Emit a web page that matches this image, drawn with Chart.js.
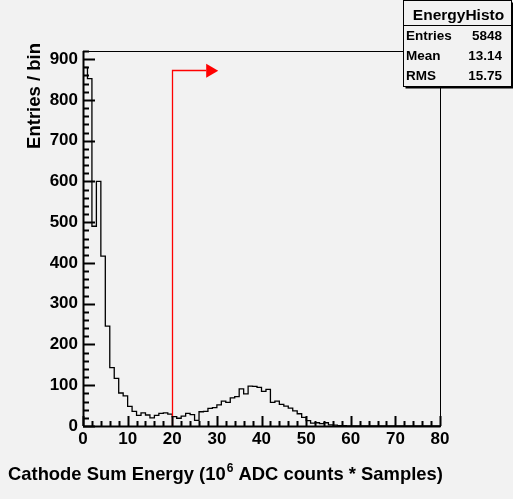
<!DOCTYPE html>
<html>
<head>
<meta charset="utf-8">
<script src="https://cdn.jsdelivr.net/npm/chart.js@4.4.0/dist/chart.umd.min.js"></script>
<style>
  body { margin: 0; background: #f2f2f2; }
  #wrap { width: 513px; height: 499px; position: relative; }
</style>
</head>
<body>
<div id="wrap"><canvas id="myChart"></canvas></div>
<script>
// histogram: 80 bins of width 1 from 0 to 80
const binEdges0 = 0;
const binWidth = 1;
const counts = [
  880, 852, 490, 600, 417, 245, 143, 117, 81, 74,
  48, 36, 26, 32, 27, 20, 26, 31, 32, 29,
  23, 19, 24, 31, 28, 14, 35, 36, 43, 45,
  52, 61, 58, 69, 72, 91, 79, 98, 97, 95,
  85, 90, 58, 61, 53, 49, 44, 37, 30, 21,
  13, 7, 8, 6, 8, 3, 2, 1, 1, 0,
  0, 0, 0, 0, 0, 0, 0, 0, 0, 0,
  0, 0, 0, 0, 0, 0, 0, 0, 0, 0
];
const xTicks = [0, 10, 20, 30, 40, 50, 60, 70, 80];
const yTicks = [0, 100, 200, 300, 400, 500, 600, 700, 800, 900];
const yMax = 920;

// stats box
const statsTitle = 'EnergyHisto';
const statsLabels = ['Entries', 'Mean', 'RMS'];
const statsValues = ['5848', '13.14', '15.75'];

// cut arrow (red)
const cutX = 20;
const arrowY = 873;
const arrowEndX = 30.3;

const FONT = '"Liberation Sans", Arial, Helvetica, sans-serif';

function main() {
  var data = [];
  for (var i = 0; i < counts.length; i++) {
    data.push({x: binEdges0 + i * binWidth, y: counts[i]});
  }
  data.push({x: binEdges0 + counts.length * binWidth, y: counts[counts.length - 1]});

  const rootDecor = {
    id: 'rootDecor',
    afterDatasetsDraw(chart) {
      const ctx = chart.ctx;
      const a = chart.chartArea;
      const xs = chart.scales.x, ys = chart.scales.y;
      ctx.save();

      // red cut arrow
      const px = xs.getPixelForValue(cutX);
      const py = ys.getPixelForValue(arrowY);
      const pe = xs.getPixelForValue(arrowEndX);
      ctx.strokeStyle = '#ff0000';
      ctx.fillStyle = '#ff0000';
      ctx.lineWidth = 1.3;
      ctx.beginPath();
      ctx.moveTo(Math.round(px) + 0.5, ys.getPixelForValue(0));
      ctx.lineTo(Math.round(px) + 0.5, Math.round(py) + 0.5);
      ctx.lineTo(pe - 12, Math.round(py) + 0.5);
      ctx.stroke();
      ctx.beginPath();
      ctx.moveTo(pe - 12, py - 6.5);
      ctx.lineTo(pe, py + 0.5);
      ctx.lineTo(pe - 12, py + 7.5);
      ctx.closePath();
      ctx.fill();

      // frame
      ctx.strokeStyle = '#000';
      ctx.lineWidth = 1;
      ctx.strokeRect(Math.round(a.left) + 0.5, Math.round(a.top) + 0.5,
                     Math.round(a.right - a.left), Math.round(a.bottom - a.top));

      // ticks inside the frame
      ctx.lineWidth = 2;
      ctx.beginPath();
      for (var v = 0; v <= 80; v += 2) {
        const x = Math.round(xs.getPixelForValue(v)) + 0.5;
        const len = (v % 10 === 0) ? 10 : 5;
        ctx.moveTo(x, a.bottom);
        ctx.lineTo(x, a.bottom - len);
      }
      for (var w = 0; w <= yMax; w += 20) {
        const y = Math.round(ys.getPixelForValue(w)) + 0.5;
        const len = (w % 100 === 0) ? 12 : 6;
        ctx.moveTo(a.left, y);
        ctx.lineTo(a.left + len, y);
      }
      ctx.stroke();
      ctx.lineWidth = 2;
      ctx.beginPath();
      ctx.moveTo(a.left, a.bottom + 0.5);
      ctx.lineTo(a.right + 0.5, a.bottom + 0.5);
      ctx.moveTo(a.left + 0.5, a.top);
      ctx.lineTo(a.left + 0.5, a.bottom);
      ctx.stroke();

      // axis titles
      ctx.fillStyle = '#000';
      ctx.textBaseline = 'alphabetic';
      ctx.save();
      ctx.translate(40, 43);
      ctx.rotate(-Math.PI / 2);
      ctx.textAlign = 'right';
      ctx.font = 'bold 18.5px ' + FONT;
      ctx.fillText('Entries / bin', 0, 0);
      ctx.restore();

      ctx.textAlign = 'left';
      var tx = 8, ty = 480;
      const p1 = 'Cathode Sum Energy (10', p2 = '6', p3 = ' ADC counts * Samples)';
      ctx.font = 'bold 18.4px ' + FONT;
      ctx.fillText(p1, tx, ty);
      tx += ctx.measureText(p1).width;
      ctx.font = 'bold 12px ' + FONT;
      ctx.fillText(p2, tx + 1, ty - 8);
      tx += ctx.measureText(p2).width + 1;
      ctx.font = 'bold 18.4px ' + FONT;
      ctx.fillText(p3, tx, ty);

      // stats box
      const bx = 403.5, by = 0.5, bw = 108, bh = 86;
      ctx.fillStyle = '#f2f2f2';
      ctx.fillRect(bx, by, bw, bh);
      ctx.strokeStyle = '#000';
      ctx.lineWidth = 1;
      ctx.strokeRect(bx, by, bw, bh);
      ctx.lineWidth = 2;
      ctx.beginPath();
      ctx.moveTo(bx + bw + 1, by + 2);
      ctx.lineTo(bx + bw + 1, by + bh + 1);
      ctx.lineTo(bx + 2, by + bh + 1);
      ctx.stroke();
      ctx.lineWidth = 1;
      ctx.beginPath();
      ctx.moveTo(bx, 25.5);
      ctx.lineTo(bx + bw, 25.5);
      ctx.stroke();
      ctx.fillStyle = '#000';
      ctx.font = 'bold 15.5px ' + FONT;
      ctx.textAlign = 'center';
      ctx.fillText(statsTitle, bx + bw / 2 + 1, 20);
      ctx.font = 'bold 13.5px ' + FONT;
      const rowsY = [40, 60, 80];
      for (var r = 0; r < statsLabels.length; r++) {
        ctx.textAlign = 'left';
        ctx.fillText(statsLabels[r], 406, rowsY[r]);
        ctx.textAlign = 'right';
        ctx.fillText(statsValues[r], 502, rowsY[r]);
      }
      ctx.restore();
    }
  };

  const chartDiv = document.getElementById('myChart');
  var chart = new Chart(chartDiv, {
    type: 'line',
    data: {
      datasets: [{
        label: 'EnergyHisto',
        data: data,
        stepped: 'before',
        borderColor: '#000000',
        borderWidth: 1.3,
        pointRadius: 0,
        fill: false
      }]
    },
    options: {
      responsive: true,
      maintainAspectRatio: false,
      animation: false,
      layout: {padding: {left: 0, top: 51, right: 73, bottom: 0}},
      plugins: {legend: {display: false}, tooltip: {enabled: false}},
      scales: {
        x: {
          type: 'linear',
          min: 0,
          max: 80,
          grid: {display: false, drawTicks: false},
          border: {display: false},
          afterBuildTicks: function (scale) {
            scale.ticks = xTicks.map(function (v) { return {value: v}; });
          },
          afterFit: function (scale) { scale.height = 73; },
          ticks: {
            color: '#000',
            padding: 3,
            maxRotation: 0,
            font: {family: FONT, size: 17, weight: 'bold'}
          }
        },
        y: {
          type: 'linear',
          min: 0,
          max: yMax,
          grid: {display: false, drawTicks: false},
          border: {display: false},
          afterBuildTicks: function (scale) {
            scale.ticks = yTicks.map(function (v) { return {value: v}; });
          },
          afterFit: function (scale) { scale.width = 83; },
          ticks: {
            color: '#000',
            padding: 5,
            font: {family: FONT, size: 17, weight: 'bold'}
          }
        }
      }
    },
    plugins: [rootDecor]
  });
  chart.update();
}

document.addEventListener("DOMContentLoaded", function () {
  main();
});
</script>
</body>
</html>
